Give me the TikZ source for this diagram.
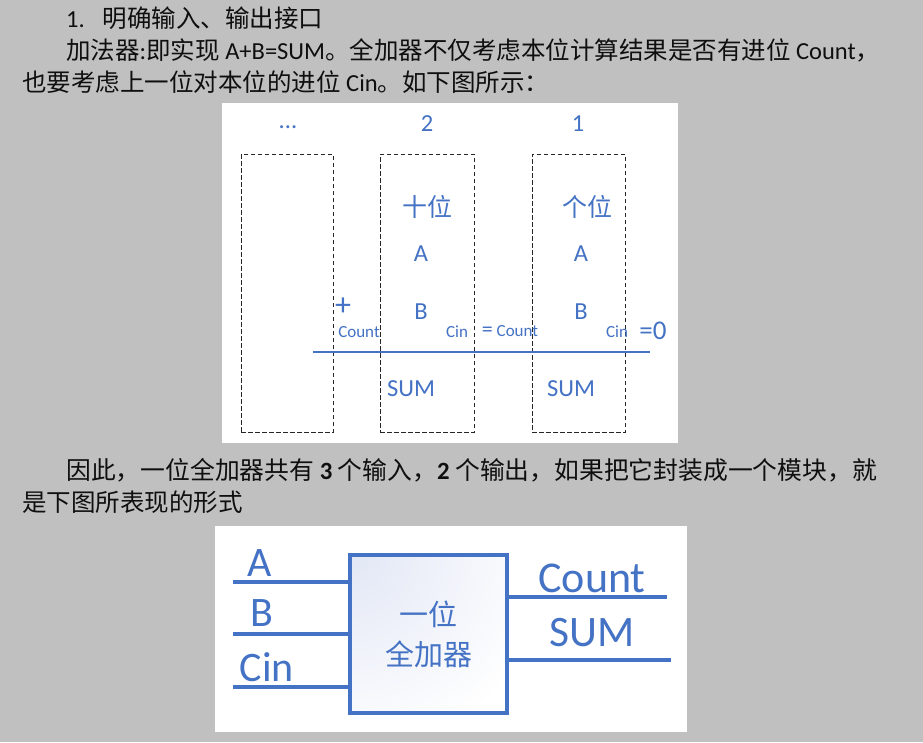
\documentclass[tikz,border=0pt]{standalone}
\usepackage{fontspec}
\setmainfont{Carlito}
\newfontfamily\cjk{Noto Sans CJK SC}
\usepackage{tikz}
\usetikzlibrary{positioning}

\definecolor{pagegray}{RGB}{192,192,192}
\definecolor{wordblue}{RGB}{68,114,196}
\definecolor{inkblack}{RGB}{15,15,15}
\definecolor{boxtint}{RGB}{226,231,245}

\tikzset{
  bodytext/.style={anchor=west,inner sep=0pt,text=inkblack,font=\fontsize{24.5}{28}\selectfont},
  digitbox/.style={draw=black!85,dash pattern=on 4.5pt off 2.5pt,line width=1pt,minimum height=278pt,inner sep=0pt},
  bluetxt/.style={text=wordblue,inner sep=0pt,font=\fontsize{24.5}{26}\selectfont},
  smallblue/.style={text=wordblue,inner sep=0pt,font=\fontsize{17}{18}\selectfont},
  bigblue/.style={text=wordblue,inner sep=0pt,font=\fontsize{42}{44}\selectfont},
  wire/.style={draw=wordblue,line width=3.3pt},
}

\begin{document}
\begin{tikzpicture}[x=1pt,y=-1pt]
\fill[pagegray] (0,0) rectangle (923,742);
\useasboundingbox (0,0) rectangle (923,742);

\node[bodytext] (line1) at (66,18) {1.\hspace{18pt}{\cjk 明确输入、输出接口}};
\node[bodytext] (line2) at (66,50) {{\cjk 加法器}:{\cjk 即实现} A+B=SUM{\cjk 。全加器不仅考虑本位计算结果是否有进位} Count{\cjk ，}};
\node[bodytext] (line3) at (22,82) {{\cjk 也要考虑上一位对本位的进位} Cin{\cjk 。如下图所示：}};

\fill[white] (222,103) rectangle (678,443);
\node[digitbox,minimum width=92pt] (col3) at (287,293) {};
\node[digitbox,minimum width=94pt] (col2) at (427,293) {};
\node[digitbox,minimum width=93pt] (col1) at (578.5,293) {};
\node[bluetxt] (dots) at (288,127) {...};
\node[bluetxt] (pos2) at (427,124) {2};
\node[bluetxt] (pos1) at (578,124) {1};
\node[bluetxt,font=\cjk\fontsize{25}{26}\selectfont] (tens) at (427,207) {十位};
\node[bluetxt,font=\cjk\fontsize{25}{26}\selectfont] (ones) at (587,207) {个位};
\node[bluetxt] (a2) at (421,254) {A};
\node[bluetxt] (a1) at (581,254) {A};
\node[bluetxt] (b2) at (421,312) {B};
\node[bluetxt] (b1) at (581,312) {B};
\node[bluetxt,font=\fontsize{32}{34}\selectfont] (plus) at (343,307) {+};
\node[smallblue] (cout3) at (359,332) {Count};
\node[smallblue] (cin2) at (457,332) {Cin};
\node[smallblue] (cout2) at (510,331) {{\fontsize{22}{22}\selectfont=} Count};
\node[smallblue] (cin1) at (617,332) {Cin};
\node[bluetxt,font=\fontsize{27}{28}\selectfont] (zero) at (653,331) {=0};
\coordinate (sumL) at (313,352);
\coordinate (sumR) at (650,352);
\draw[wordblue,line width=2.8pt] (sumL) -- (sumR);
\node[bluetxt] (sum2) at (411,389) {SUM};
\node[bluetxt] (sum1) at (571,389) {SUM};

\node[bodytext,font=\fontsize{24.8}{28}\selectfont] (line4) at (66,470) {{\cjk 因此，一位全加器共有} \textbf{3} {\cjk 个输入，}\textbf{2} {\cjk 个输出，如果把它封装成一个模块，就}};
\node[bodytext] (line5) at (22,502) {\cjk 是下图所表现的形式};

\fill[white] (215,526) rectangle (687,732);
\node[draw=wordblue,line width=3.3pt,minimum width=157pt,minimum height=158pt,
  path picture={\shade[inner color=boxtint,outer color=white] (path picture bounding box.north west) circle (200pt);}] (adder) at (428.5,634) {};
\node[text=wordblue,align=center,font=\cjk\fontsize{29}{40}\selectfont] (adderlbl) at (adder) {一位\\全加器};
\coordinate (inA) at (233,582);
\coordinate (inB) at (233,634);
\coordinate (inC) at (233,687);
\coordinate (outC) at (667,597);
\coordinate (outS) at (671,660);
\draw[wire] (inA) -- (inA -| adder.west);
\draw[wire] (inB) -- (inB -| adder.west);
\draw[wire] (inC) -- (inC -| adder.west);
\draw[wire] (adder.east |- outC) -- (outC);
\draw[wire] (adder.east |- outS) -- (outS);
\node[bigblue] (labA) at (260,563) {A};
\node[bigblue] (labB) at (262,613) {B};
\node[bigblue] (labCin) at (267,667) {Cin};
\node[bigblue,font=\fontsize{44}{46}\selectfont] (labCount) at (592,578) {Count};
\node[bigblue,font=\fontsize{43.5}{46}\selectfont] (labSum) at (592,633) {SUM};
\end{tikzpicture}
\end{document}
